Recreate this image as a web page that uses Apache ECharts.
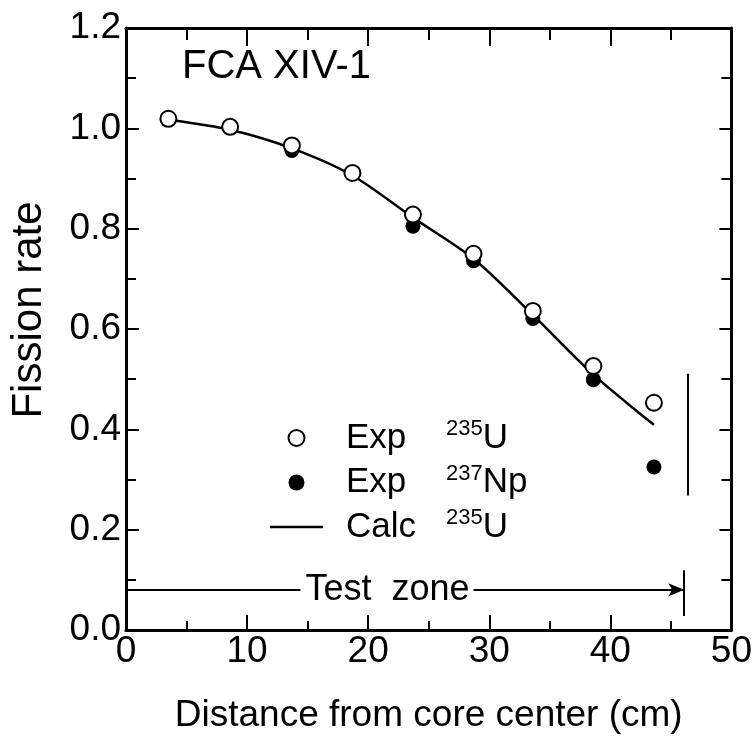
<!DOCTYPE html>
<html>
<head>
<meta charset="utf-8">
<script src="https://cdn.jsdelivr.net/npm/echarts@6/dist/echarts.min.js"></script>
<style>
html,body{margin:0;padding:0;background:#fff;}
#main{width:755px;height:739px;}
</style>
</head>
<body>
<div id="main"></div>
<script>
// ---- data ----
var expU235X = [3.5, 8.6, 13.7, 18.7, 23.7, 28.7, 33.6, 38.6, 43.6];
var expU235Y = [1.019, 1.003, 0.966, 0.911, 0.828, 0.750, 0.636, 0.526, 0.453];
var expNp237X = [13.7, 23.7, 28.7, 33.6, 38.6, 43.6];
var expNp237Y = [0.956, 0.805, 0.736, 0.621, 0.499, 0.325];
var calcX = [3.8, 8.6, 13.7, 18.7, 23.7, 28.7, 33.6, 38.6, 43.6];
var calcY = [1.016, 0.997, 0.960, 0.906, 0.822, 0.740, 0.628, 0.509, 0.409];
var xTicks = [0, 10, 20, 30, 40, 50];
var yTicks = [0.0, 0.2, 0.4, 0.6, 0.8, 1.0, 1.2];
var legendNames = ['Exp 235U', 'Exp 237Np', 'Calc 235U'];
var legendParts = [['Exp', '235', 'U'], ['Exp', '237', 'Np'], ['Calc', '235', 'U']];
// Test zone annotation (data units)
var testY = 0.08;
var testStart = 0;
var testTextX = 21.6;
var testGap = [14.4, 28.7];
var testEnd = 46.1;
var testBar = [0.028, 0.119];
var boundaryX = 46.4;
var boundaryY = [0.268, 0.511];

function zip(a, b) { return a.map(function (v, i) { return [v, b[i]]; }); }

var FONT = 'Liberation Sans, Arial, sans-serif';
var chart = echarts.init(document.getElementById('main'));

function axisCommon(extra) {
  var o = {
    type: 'value',
    axisLine: { show: true, onZero: false, lineStyle: { color: '#000', width: 3 } },
    axisTick: { show: true, inside: true, length: 15, lineStyle: { color: '#000', width: 2 } },
    minorTick: { show: true, splitNumber: 2, length: 9, lineStyle: { color: '#000', width: 2 } },
    splitLine: { show: false },
    minorSplitLine: { show: false }
  };
  for (var k in extra) o[k] = extra[k];
  return o;
}

var option = {
  animation: false,
  backgroundColor: '#fff',
  title: {
    text: 'FCA XIV-1',
    left: 182, top: 47, padding: 0,
    textStyle: { fontFamily: FONT, fontSize: 40, fontWeight: 'normal', color: '#000' }
  },
  grid: { left: 125, right: 20, top: 28, bottom: 107 },
  legend: {
    data: [
      { name: legendNames[0] },
      { name: legendNames[1] },
      { name: legendNames[2], icon: 'path://M0,0L53,0L53,2.5L0,2.5Z', itemStyle: { color: '#000' } }
    ],
    orient: 'vertical',
    left: 265, top: 413,
    itemWidth: 53, itemHeight: 16, itemGap: 7,
    selectedMode: false,
    textStyle: { fontFamily: FONT, color: '#000', padding: [0, 0, 0, 18],
      rich: {
        a: { fontFamily: FONT, fontSize: 35, width: 100, lineHeight: 40, color: '#000' },
        s: { fontFamily: FONT, fontSize: 22, verticalAlign: 'top', lineHeight: 12, color: '#000' },
        b: { fontFamily: FONT, fontSize: 35, lineHeight: 40, color: '#000' }
      }
    },
    formatter: function (name) {
      var p = legendParts[legendNames.indexOf(name)];
      return '{a|' + p[0] + '}{s|' + p[1] + '}{b|' + p[2] + '}';
    }
  },
  xAxis: [
    axisCommon({
      position: 'bottom', min: xTicks[0], max: xTicks[xTicks.length - 1], interval: 10,
      axisLabel: { fontFamily: FONT, fontSize: 37, color: '#000', margin: 3 },
      name: 'Distance from core center (cm)', nameLocation: 'middle', nameGap: 67,
      nameTextStyle: { fontFamily: FONT, fontSize: 37, color: '#000' }
    }),
    axisCommon({
      position: 'top', min: xTicks[0], max: xTicks[xTicks.length - 1], interval: 10,
      axisLabel: { show: false },
      axisTick: { show: true, inside: true, length: 18, lineStyle: { color: '#000', width: 2 } },
      minorTick: { show: true, splitNumber: 2, length: 12, lineStyle: { color: '#000', width: 2 } }
    })
  ],
  yAxis: [
    axisCommon({
      position: 'left', min: yTicks[0], max: yTicks[yTicks.length - 1], interval: 0.2,
      axisLabel: { fontFamily: FONT, fontSize: 37, color: '#000', margin: 5,
        formatter: function (v) { return v.toFixed(1); } },
      axisTick: { show: true, inside: true, length: 13, lineStyle: { color: '#000', width: 2 } },
      minorTick: { show: true, splitNumber: 2, length: 10, lineStyle: { color: '#000', width: 2 } },
      name: 'Fission rate', nameLocation: 'middle', nameGap: 76,
      nameTextStyle: { fontFamily: FONT, fontSize: 42, color: '#000', padding: [0, 0, 0, 38] }
    }),
    axisCommon({
      position: 'right', min: yTicks[0], max: yTicks[yTicks.length - 1], interval: 0.2,
      axisLabel: { show: false },
      axisTick: { show: true, inside: true, length: 12, lineStyle: { color: '#000', width: 2 } },
      minorTick: { show: true, splitNumber: 2, length: 10, lineStyle: { color: '#000', width: 2 } }
    })
  ],
  series: [
    {
      name: 'Calc 235U', type: 'line', data: zip(calcX, calcY),
      smooth: 0.3, symbol: 'none', showSymbol: false,
      lineStyle: { color: '#000', width: 2.5 }, itemStyle: { color: '#000' }, z: 2
    },
    {
      name: 'Exp 237Np', type: 'scatter', data: zip(expNp237X, expNp237Y),
      symbol: 'circle', symbolSize: 15, itemStyle: { color: '#000', opacity: 1 }, z: 3
    },
    {
      name: 'Exp 235U', type: 'scatter', data: zip(expU235X, expU235Y),
      symbol: 'circle', symbolSize: 16,
      itemStyle: { color: '#fff', borderColor: '#000', borderWidth: 2, opacity: 1 }, z: 4
    },
    {
      name: 'annotations', type: 'line', data: [], silent: true,
      markLine: {
        silent: true, animation: false, symbol: ['none', 'none'],
        label: { show: false },
        lineStyle: { color: '#000', width: 2, type: 'solid' },
        emphasis: { disabled: true },
        data: [
          [{ coord: [testStart, testY] }, { coord: [testGap[0], testY] }],
          [{ coord: [testGap[1], testY] }, { coord: [testEnd, testY], symbol: 'arrow', symbolSize: [10, 16] }],
          [{ coord: [testEnd, testBar[0]] }, { coord: [testEnd, testBar[1]] }],
          [{ coord: [boundaryX, boundaryY[0]] }, { coord: [boundaryX, boundaryY[1]] }]
        ]
      },
      markPoint: {
        silent: true, animation: false,
        symbol: 'circle', symbolSize: 1,
        itemStyle: { color: 'rgba(0,0,0,0)' },
        label: { show: true, position: 'inside', formatter: 'Test  zone',
          fontFamily: FONT, fontSize: 36, color: '#000' },
        data: [{ coord: [testTextX, testY] }]
      }
    }
  ]
};
chart.setOption(option);
</script>
</body>
</html>
